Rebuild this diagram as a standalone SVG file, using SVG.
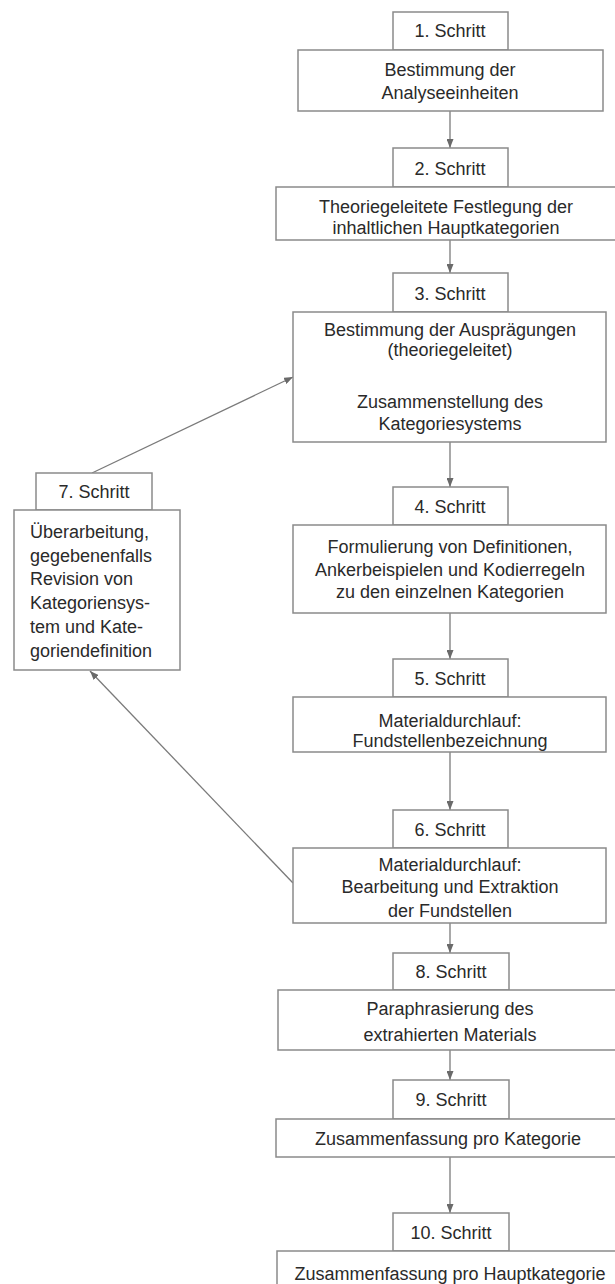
<svg xmlns="http://www.w3.org/2000/svg" width="615" height="1284" viewBox="0 0 615 1284">
<style>
  .box { fill: #ffffff; stroke: #8a8a8a; stroke-width: 1.5; }
  .t { font-family: "Liberation Sans", Arial, sans-serif; font-size: 18px; fill: #2a2a2a; text-anchor: middle; }
  .tl { font-family: "Liberation Sans", Arial, sans-serif; font-size: 18px; fill: #2a2a2a; text-anchor: start; }
  .conn { stroke: #7a7a7a; stroke-width: 1.3; fill: none; marker-end: url(#arr); }
</style>
<defs>
  <marker id="arr" markerUnits="userSpaceOnUse" markerWidth="9" markerHeight="7" refX="9" refY="3.5" orient="auto">
    <path d="M0,0 L9,3.5 L0,7 z" fill="#6a6a6a"/>
  </marker>
</defs>
<rect width="615" height="1284" fill="#ffffff"/>

<g id="connectors">
  <line class="conn" x1="450" y1="111" x2="450" y2="148"/>
  <line class="conn" x1="450" y1="240" x2="450" y2="273"/>
  <line class="conn" x1="450" y1="442" x2="450" y2="487"/>
  <line class="conn" x1="450" y1="613" x2="450" y2="659"/>
  <line class="conn" x1="450" y1="752" x2="450" y2="810"/>
  <line class="conn" x1="450" y1="923" x2="450" y2="953"/>
  <line class="conn" x1="450" y1="1050" x2="450" y2="1080"/>
  <line class="conn" x1="450" y1="1157" x2="450" y2="1213"/>
  <line class="conn" x1="92" y1="473" x2="293" y2="377"/>
  <line class="conn" x1="293" y1="883" x2="90" y2="671"/>
</g>

<g id="step1">
  <rect class="box" x="393" y="12" width="115" height="38"/>
  <text class="t" x="450" y="37">1. Schritt</text>
  <rect class="box" x="298" y="50" width="305" height="61"/>
  <text class="t" x="450" y="76">Bestimmung der</text>
  <text class="t" x="450" y="99">Analyseeinheiten</text>
</g>

<g id="step2">
  <rect class="box" x="393" y="148" width="115" height="39"/>
  <text class="t" x="450" y="175">2. Schritt</text>
  <rect class="box" x="276" y="187" width="350" height="53"/>
  <text class="t" x="446" y="213">Theoriegeleitete Festlegung der</text>
  <text class="t" x="446" y="234">inhaltlichen Hauptkategorien</text>
</g>

<g id="step3">
  <rect class="box" x="393" y="273" width="115" height="39"/>
  <text class="t" x="450" y="300">3. Schritt</text>
  <rect class="box" x="293" y="312" width="313" height="130"/>
  <text class="t" x="450" y="336">Bestimmung der Ausprägungen</text>
  <text class="t" x="450" y="356">(theoriegeleitet)</text>
  <text class="t" x="450" y="408">Zusammenstellung des</text>
  <text class="t" x="450" y="430">Kategoriesystems</text>
</g>

<g id="step4">
  <rect class="box" x="393" y="487" width="115" height="38"/>
  <text class="t" x="450" y="513">4. Schritt</text>
  <rect class="box" x="293" y="525" width="313" height="88"/>
  <text class="t" x="450" y="553">Formulierung von Definitionen,</text>
  <text class="t" x="450" y="576">Ankerbeispielen und Kodierregeln</text>
  <text class="t" x="450" y="598">zu den einzelnen Kategorien</text>
</g>

<g id="step5">
  <rect class="box" x="393" y="659" width="115" height="38"/>
  <text class="t" x="450" y="685">5. Schritt</text>
  <rect class="box" x="293" y="697" width="313" height="55"/>
  <text class="t" x="450" y="727">Materialdurchlauf:</text>
  <text class="t" x="450" y="747">Fundstellenbezeichnung</text>
</g>

<g id="step6">
  <rect class="box" x="393" y="810" width="115" height="38"/>
  <text class="t" x="450" y="836">6. Schritt</text>
  <rect class="box" x="293" y="848" width="313" height="75"/>
  <text class="t" x="450" y="871">Materialdurchlauf:</text>
  <text class="t" x="450" y="893">Bearbeitung und Extraktion</text>
  <text class="t" x="450" y="917">der Fundstellen</text>
</g>

<g id="step7">
  <rect class="box" x="36" y="473" width="116" height="37"/>
  <text class="t" x="94" y="498">7. Schritt</text>
  <rect class="box" x="14" y="510" width="166" height="160"/>
  <text class="tl" x="30" y="538">Überarbeitung,</text>
  <text class="tl" x="30" y="562">gegebenenfalls</text>
  <text class="tl" x="30" y="585">Revision von</text>
  <text class="tl" x="30" y="609">Kategoriensys-</text>
  <text class="tl" x="30" y="633">tem und Kate-</text>
  <text class="tl" x="30" y="657">goriendefinition</text>
</g>

<g id="step8">
  <rect class="box" x="393" y="953" width="116" height="37"/>
  <text class="t" x="451" y="978">8. Schritt</text>
  <rect class="box" x="278" y="990" width="350" height="60"/>
  <text class="t" x="450" y="1015">Paraphrasierung des</text>
  <text class="t" x="450" y="1041">extrahierten Materials</text>
</g>

<g id="step9">
  <rect class="box" x="393" y="1080" width="116" height="39"/>
  <text class="t" x="451" y="1106">9. Schritt</text>
  <rect class="box" x="276" y="1119" width="350" height="38"/>
  <text class="t" x="448" y="1145">Zusammenfassung pro Kategorie</text>
</g>

<g id="step10">
  <rect class="box" x="393" y="1213" width="116" height="38"/>
  <text class="t" x="451" y="1239">10. Schritt</text>
  <rect class="box" x="277" y="1251" width="350" height="50"/>
  <text class="t" x="450" y="1280">Zusammenfassung pro Hauptkategorie</text>
</g>
</svg>
